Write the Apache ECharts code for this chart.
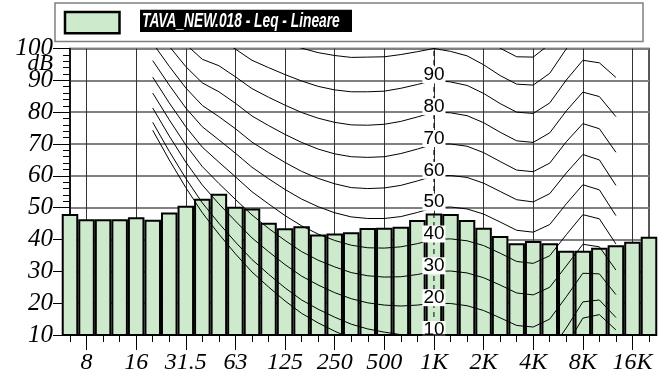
<!DOCTYPE html>
<html>
<head>
<meta charset="utf-8">
<script src="https://cdn.jsdelivr.net/npm/echarts@6/dist/echarts.min.js"></script>
<style>
html,body{margin:0;padding:0;background:#fff;}
#chart{width:671px;height:374px;}
</style>
</head>
<body>
<div id="chart"></div>
<script>
// ---- Data ----
const categories = ['6.3','8','10','12.5','16','20','25','31.5','40','50','63','80','100','125','160','200','250','315','400','500','630','800','1K','1.25K','1.6K','2K','2.5K','3.15K','4K','5K','6.3K','8K','10K','12.5K','16K','20K'];
const leqValues = [48.0,46.4,46.4,46.4,47.0,46.2,48.5,50.6,52.8,54.4,50.3,49.7,45.3,43.5,44.2,41.6,41.9,42.3,43.6,43.7,44.0,46.1,48.2,48.0,46.1,43.7,41.1,38.8,39.5,38.8,36.5,36.5,37.4,38.2,39.3,40.9];
const tickLabels = ['8','16','31.5','63','125','250','500','1K','2K','4K','8K','16K'];
const seriesName = 'TAVA_NEW.018 - Leq - Lineare';

// equal-loudness contours (isophones), one value per third-octave band 20 Hz .. 12.5 kHz
const isoFreqs = ['20','25','31.5','40','50','63','80','100','125','160','200','250','315','400','500','630','800','1K','1.25K','1.6K','2K','2.5K','3.15K','4K','5K','6.3K','8K','10K','12.5K'];
const isoThreshold = [74.3,65.0,56.3,48.4,41.7,35.5,29.8,25.1,20.7,16.8,13.8,11.2,8.9,7.2,6.0,5.0,4.4,4.2,3.7,2.6,1.0,-1.2,-3.6,-3.9,-1.1,6.6,15.3,16.4,11.6];
const iso10  = [76.8,67.7,59.2,51.5,45.1,39.2,33.7,29.1,24.8,21.0,18.1,15.6,13.4,11.9,10.9,10.1,9.9,10,9.7,8.7,7.2,5.0,2.6,2.2,4.8,12.2,20.4,21.0,15.5];
const iso20  = [81.3,72.5,64.3,57.1,51.2,45.8,40.5,36.2,32.1,28.5,25.7,23.3,21.4,20.1,19.4,19.1,19.4,20,19.9,19.2,17.7,15.4,13.0,12.5,15.0,22.0,29.4,29.2,22.7];
const iso30  = [86.0,77.6,69.7,62.9,57.6,52.6,47.7,43.5,39.7,36.2,33.5,31.4,29.6,28.6,28.2,28.3,29.0,30,30.1,29.5,28.0,25.7,23.2,22.6,25.0,31.7,38.5,37.7,30.4];
const iso40  = [91.0,82.9,75.4,69.0,64.3,59.7,55.0,51.2,47.5,44.3,41.7,39.7,38.2,37.4,37.3,37.7,38.7,40,40.2,39.6,38.1,35.7,33.1,32.5,34.9,41.5,47.8,46.5,38.6];
const iso50  = [96.2,88.5,81.3,75.4,71.3,67.1,62.7,59.1,55.7,52.7,50.3,48.4,47.1,46.6,46.6,47.2,48.5,50,50.2,49.6,48.0,45.5,42.9,42.3,44.7,51.2,57.2,55.6,47.5];
const iso60  = [101.7,94.4,87.6,82.1,78.6,74.8,70.6,67.3,64.2,61.4,59.2,57.5,56.3,56.0,56.2,57.0,58.4,60,60.1,59.5,57.7,55.1,52.5,51.8,54.4,60.9,66.7,65.0,57.0];
const iso70  = [107.6,100.7,94.3,89.2,86.4,82.8,78.8,75.8,73.0,70.5,68.4,66.9,66.0,65.8,66.0,67.0,68.4,70,70.0,69.3,67.3,64.5,61.8,61.3,64.0,70.7,76.4,74.8,67.4];
const iso80  = [113.7,107.3,101.3,96.6,94.6,91.1,87.4,84.7,82.2,79.9,78.1,76.8,76.0,75.9,76.2,77.1,78.5,80,79.8,78.9,76.7,73.7,71.0,70.5,73.5,80.4,86.3,84.9,78.6];
const iso90  = [120.3,114.4,108.7,104.4,103.2,99.8,96.3,94.0,91.8,89.8,88.1,87.0,86.4,86.4,86.6,87.5,88.7,90,89.5,88.4,85.9,82.7,80.0,79.6,82.9,90.1,96.3,95.5,90.9];
const iso100 = [127.2,121.9,116.6,112.6,112.3,108.9,105.6,103.6,101.8,100.1,98.7,97.8,97.2,97.3,97.4,98.1,99.0,100,99.1,97.7,94.9,91.5,88.8,88.5,92.2,99.9,106.6,106.5,104.3];
const iso110 = [134.6,129.8,125.0,121.3,121.9,118.4,115.3,113.7,112.3,110.9,109.7,109.0,108.6,108.6,108.6,109.0,109.5,110,108.6,107.0,103.8,100.1,97.4,97.3,101.4,109.6,116.9,117.9,119.0];
const isoCurves = [isoThreshold, iso10, iso20, iso30, iso40, iso50, iso60, iso70, iso80, iso90, iso100, iso110];
const isoLabelPhons = [10,20,30,40,50,60,70,80,90];
const isoLabelFreq = '1K';

// ---- Chart ----
const idx = name => categories.indexOf(name);
const isTick = i => tickLabels.indexOf(categories[i]) >= 0;

const contourSeries = isoCurves.map(arr => ({
  type: 'line',
  data: arr.map((v, i) => [idx(isoFreqs[i]), v]),
  symbol: 'none',
  clip: true,
  silent: true,
  z: 3,
  lineStyle: { color: '#000', width: 1 }
}));

const chart = echarts.init(document.getElementById('chart'), null, { renderer: 'canvas' });
chart.setOption({
  animation: false,
  grid: { left: 70, right: 22, top: 48.5, bottom: 39, show: true, borderColor: '#222', borderWidth: 1.5,
          backgroundColor: 'transparent', containLabel: false, outerBoundsMode: 'none' },
  xAxis: [
    { type: 'category', data: categories, boundaryGap: false, z: 12,
      axisLine: { show: true, lineStyle: { color: '#000', width: 1.5 } },
      axisTick: { show: true, interval: 0, length: 7, lineStyle: { color: '#000', width: 1 } },
      axisLabel: { show: false }, splitLine: { show: false } },
    { type: 'category', data: categories, boundaryGap: false, position: 'bottom', gridIndex: 0,
      axisLine: { show: false },
      axisTick: { show: true, interval: (i) => isTick(i), length: 15, lineStyle: { color: '#000', width: 1 } },
      axisLabel: { show: true, interval: (i) => isTick(i), margin: 16, fontFamily: 'Liberation Serif',
                   fontStyle: 'italic', fontSize: 24, color: '#000' },
      splitLine: { show: true, interval: (i) => isTick(i), lineStyle: { color: '#333', width: 1 } } }
  ],
  yAxis: {
    type: 'value', min: 10, max: 100, interval: 10,
    axisLine: { show: true, lineStyle: { color: '#000', width: 1.5 } },
    axisTick: { show: true, length: 17, lineStyle: { color: '#000', width: 1 } },
    minorTick: { show: true, splitNumber: 5, length: 7, lineStyle: { color: '#000', width: 1 } },
    axisLabel: { margin: 17, fontFamily: 'Liberation Serif', fontStyle: 'italic', fontSize: 25, color: '#000' },
    splitLine: { show: true, lineStyle: { color: '#808080', width: 2 } }
  },
  series: [
    { type: 'bar', name: seriesName, data: leqValues, barCategoryGap: '0%', clip: true, z: 2,
      itemStyle: { color: '#cdeacd', borderColor: '#000', borderWidth: 2 } },
    ...contourSeries,
    { type: 'line', data: [[idx(isoLabelFreq), 10], [idx(isoLabelFreq), 100]], symbol: 'none', z: 4, silent: true,
      lineStyle: { color: '#000', width: 1, type: [5, 4] } },
    { type: 'custom', z: 10, silent: true, clip: false,
      data: isoLabelPhons.map(p => [idx(isoLabelFreq), p]),
      renderItem: (params, api) => {
        const pt = api.coord([api.value(0), api.value(1)]);
        return {
          type: 'text', x: pt[0], y: pt[1] + 3,
          style: { text: String(api.value(1)), fill: '#000', fontSize: 19, fontFamily: 'Liberation Sans',
                   align: 'center', verticalAlign: 'bottom', lineHeight: 17,
                   backgroundColor: '#fff', padding: [0, 1, 0, 1] }
        };
      } }
  ],
  graphic: [
    { type: 'rect', shape: { x: 55, y: 3, width: 588, height: 38.5 }, style: { fill: '#fff', stroke: '#808080', lineWidth: 1.5 } },
    { type: 'rect', shape: { x: 65, y: 12, width: 54.5, height: 21.3 }, style: { fill: '#cdeacd', stroke: '#000', lineWidth: 2.5 } },
    { type: 'rect', shape: { x: 140, y: 9.7, width: 212, height: 22.3 }, style: { fill: '#000' } },
    { type: 'text', x: 142, y: 21, scaleX: 0.655,
      style: { text: seriesName, fill: '#fff', fontSize: 21, fontFamily: 'Liberation Sans', fontStyle: 'italic',
               fontWeight: 'bold', align: 'left', verticalAlign: 'middle' } },
    { type: 'text', x: 53, y: 64,
      style: { text: 'dB', fill: '#000', fontSize: 23, fontFamily: 'Liberation Serif', fontStyle: 'italic',
               align: 'right', verticalAlign: 'middle' } }
  ]
});
</script>
</body>
</html>
